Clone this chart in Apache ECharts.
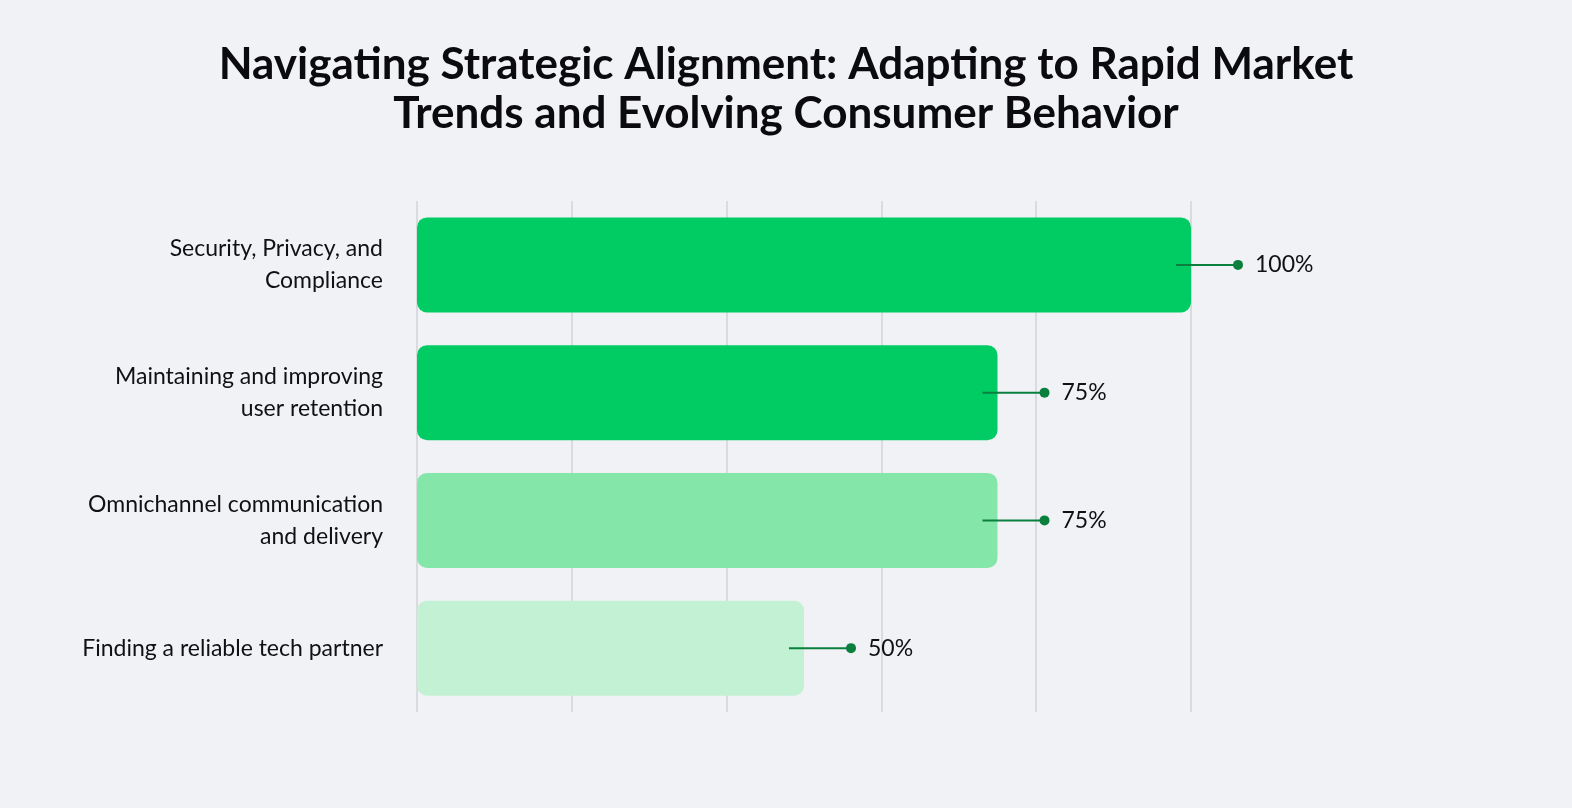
<!DOCTYPE html>
<html>
<head>
<meta charset="utf-8">
<script src="https://cdn.jsdelivr.net/npm/echarts@6/dist/echarts.min.js"></script>
<style>
html,body{margin:0;padding:0;background:#F1F2F6;}
#c{width:1572px;height:808px;}
</style>
</head>
<body>
<div id="c"></div>
<script>
const categories = [
  "Security, Privacy, and\nCompliance",
  "Maintaining and improving\nuser retention",
  "Omnichannel communication\nand delivery",
  "Finding a reliable tech partner"
];
const values = [100, 75, 75, 50];
const barColors = ["#00CC63", "#00CC63", "#84E6A9", "#C2F2D3"];
const labelTexts = ["100%", "75%", "75%", "50%"];
const titleText = "Navigating Strategic Alignment: Adapting to Rapid Market\nTrends and Evolving Consumer Behavior";

const chart = echarts.init(document.getElementById('c'));
chart.setOption({
  backgroundColor: '#F1F2F6',
  title: {
    text: titleText,
    left: 'center',
    top: 35,
    textStyle: {
      fontFamily: 'Lato',
      fontWeight: 'bold',
      fontSize: 44,
      lineHeight: 49,
      color: '#0B0B0F'
    }
  },
  grid: { left: 417, right: 381, top: 201, bottom: 96, containLabel: false },
  xAxis: {
    type: 'value',
    min: 0, max: 100, interval: 20,
    axisLabel: { show: false },
    axisLine: { show: false },
    axisTick: { show: false },
    splitLine: { show: true, lineStyle: { color: '#DADBDF', width: 2 } }
  },
  yAxis: {
    type: 'category',
    inverse: true,
    data: categories,
    axisLine: { show: false },
    axisTick: { show: false },
    axisLabel: {
      margin: 34,
      align: 'right',
      fontFamily: 'Lato',
      fontSize: 23,
      lineHeight: 32,
      color: '#111114'
    }
  },
  series: [
    {
      type: 'bar',
      barWidth: 95,
      data: values.map((v, i) => ({ value: v, itemStyle: { color: barColors[i], borderRadius: 10 } })),
      silent: true
    },
    {
      type: 'custom',
      data: values.map((v, i) => [v, i]),
      z: 10,
      renderItem: function (params, api) {
        const p = api.coord([api.value(0), api.value(1)]);
        const x = p[0], y = p[1];
        const idx = params.dataIndex;
        return {
          type: 'group',
          children: [
            { type: 'line', shape: { x1: x - 15, y1: y, x2: x + 47, y2: y }, style: { stroke: '#0B7F3E', lineWidth: 2 } },
            { type: 'circle', shape: { cx: x + 47, cy: y, r: 5 }, style: { fill: '#0B7F3E' } },
            { type: 'text', x: x + 64, y: y, style: { text: labelTexts[idx], fontFamily: 'Lato', fontSize: 23, fill: '#111114', verticalAlign: 'middle', align: 'left' } }
          ]
        };
      }
    }
  ]
});
</script>
</body>
</html>
